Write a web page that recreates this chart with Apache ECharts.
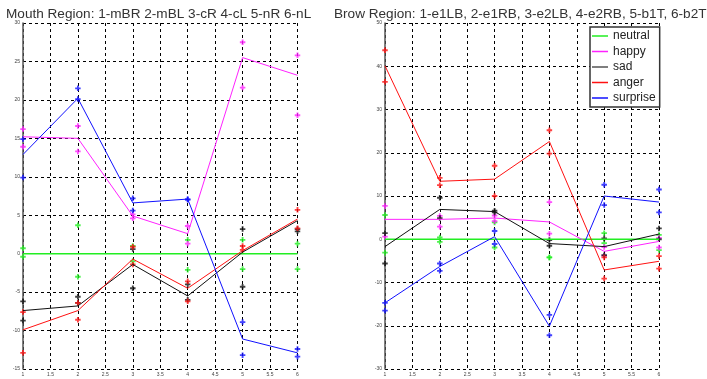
<!DOCTYPE html>
<html><head><meta charset="utf-8">
<script src="https://cdn.jsdelivr.net/npm/echarts@6/dist/echarts.min.js"></script>
<style>html,body{margin:0;padding:0;background:#fff}#c{width:707px;height:379px}</style>
</head><body><div id="c"></div>
<script>
// x positions (feature index)
const xs = [1, 2, 3, 4, 5, 6];
const xTicks = ['1','1.5','2','2.5','3','3.5','4','4.5','5','5.5','6'];
const mouthYTicks = [30,25,20,15,10,5,0,-5,-10,-15];
const browYTicks = [50,40,30,20,10,0,-10,-20,-30];

const emotions = ['neutral','happy','sad','anger','surprise'];
const colors = ['#22ee22','#ff22ff','#111111','#ff1111','#1111ff'];

// Mouth region: mean lines
const mouthNeutral  = [0, 0, 0, 0, 0, 0];
const mouthHappy    = [15.2, 15.0, 4.9, 2.6, 25.5, 23.2];
const mouthSad      = [-7.4, -6.8, -1.4, -5.5, 0.2, 4.3];
const mouthAnger    = [-9.9, -7.4, -0.7, -4.5, 0.4, 4.5];
const mouthSurprise = [12.9, 20.2, 6.6, 7.1, -11.1, -12.9];
// Mouth region: individual samples (two per position)
const mouthNeutralA  = [0.7, 3.7, 1.0, 1.8, 1.8, 1.3];
const mouthNeutralB  = [-0.4, -3.0, -1.0, -2.1, -2.0, -2.0];
const mouthHappyA    = [16.2, 16.6, 5.1, 3.6, 27.5, 25.8];
const mouthHappyB    = [13.9, 13.3, 4.6, 1.3, 21.6, 18.0];
const mouthSadA      = [-6.2, -5.6, 0.6, -4.0, 3.2, 3.2];
const mouthSadB      = [-8.7, -6.4, -4.5, -6.0, -4.3, 2.9];
const mouthAngerA    = [-7.6, -6.4, 0.9, -3.6, 1.0, 5.7];
const mouthAngerB    = [-12.9, -8.6, -1.4, -6.2, 0.5, 3.3];
const mouthSurpriseA = [14.9, 21.5, 7.2, 7.1, -8.9, -12.4];
const mouthSurpriseB = [9.9, 20.1, 5.6, 7.0, -13.2, -13.4];

// Brow region: mean lines
const browNeutral  = [0, 0, 0, 0, 0, 0];
const browHappy    = [4.6, 4.6, 4.9, 4.0, -2.8, -0.5];
const browSad      = [-1.7, 6.9, 6.4, -1.0, -1.7, 1.2];
const browAnger    = [40.1, 13.4, 13.9, 22.6, -7.1, -5.1];
const browSurprise = [-14.7, -6.3, 0.6, -20.1, 10.0, 8.6];
// Brow region: individual samples
const browNeutralA  = [5.6, 0.4, 3.9, -4.2, 1.4, 1.0];
const browNeutralB  = [-3.1, -0.6, -1.9, -4.2, -0.9, -2.5];
const browHappyA    = [7.7, 5.4, 5.5, 8.6, -1.8, 0.3];
const browHappyB    = [0.6, 2.9, 4.2, 1.3, -3.8, -1.9];
const browSadA      = [1.4, 9.6, 6.6, -0.2, 0.2, 2.5];
const browSadB      = [-5.6, 4.9, 6.2, -1.5, -3.7, 0.0];
const browAngerA    = [43.7, 14.2, 17.0, 25.2, -4.2, -3.9];
const browAngerB    = [36.4, 12.5, 10.0, 19.8, -9.1, -6.8];
const browSurpriseA = [-14.7, -5.6, 1.9, -17.5, 12.6, 11.5];
const browSurpriseB = [-16.5, -7.3, -1.1, -22.2, 7.9, 6.2];

const mouthLines = [mouthNeutral, mouthHappy, mouthSad, mouthAnger, mouthSurprise];
const mouthSamples = [[mouthNeutralA, mouthNeutralB],[mouthHappyA, mouthHappyB],[mouthSadA, mouthSadB],[mouthAngerA, mouthAngerB],[mouthSurpriseA, mouthSurpriseB]];
const browLines = [browNeutral, browHappy, browSad, browAnger, browSurprise];
const browSamples = [[browNeutralA, browNeutralB],[browHappyA, browHappyB],[browSadA, browSadB],[browAngerA, browAngerB],[browSurpriseA, browSurpriseB]];

const plus = 'path://M-1,-3 L1,-3 L1,-1 L3,-1 L3,1 L1,1 L1,3 L-1,3 L-1,1 L-3,1 L-3,-1 L-1,-1 Z';
const font = 'Liberation Sans, Arial, sans-serif';

function axisX(idx) {
  return {
    type: 'value', gridIndex: idx, min: 1, max: 6, interval: 0.5,
    axisLine: { show: true, lineStyle: { color: '#555', width: 1.2 } },
    axisTick: { show: false },
    axisLabel: { fontSize: 5, color: '#444', margin: 3, fontFamily: font },
    splitLine: { show: true, lineStyle: { color: '#000', type: [3, 3], width: 1 } }
  };
}
function axisY(idx, min, max, interval) {
  return {
    type: 'value', gridIndex: idx, min: min, max: max, interval: interval,
    axisLine: { show: true, lineStyle: { color: '#555', width: 1.5 } },
    axisTick: { show: false },
    axisLabel: { fontSize: 5, color: '#444', margin: 3, fontFamily: font },
    splitLine: { show: true, lineStyle: { color: '#000', type: [3, 3], width: 1 } }
  };
}

const series = [];
function addPanel(idx, lines, samples) {
  emotions.forEach((name, i) => {
    const pts = [];
    samples[i].forEach(arr => arr.forEach((v, k) => pts.push([xs[k], v])));
    series.push({
      name: name + '_samples', type: 'scatter', xAxisIndex: idx, yAxisIndex: idx,
      data: pts, symbol: plus, symbolSize: 5.5, itemStyle: { color: colors[i] },
      silent: true, z: 3
    });
  });
  emotions.forEach((name, i) => {
    series.push({
      name: name, type: 'line', xAxisIndex: idx, yAxisIndex: idx,
      data: lines[i].map((v, k) => [xs[k], v]), showSymbol: false, symbol: 'none',
      lineStyle: { color: colors[i], width: i === 0 ? 1.5 : 1 },
      itemStyle: { color: colors[i] }, z: 4, animation: false
    });
  });
}
addPanel(0, mouthLines, mouthSamples);
addPanel(1, browLines, browSamples);

const option = {
  animation: false,
  backgroundColor: '#fff',
  title: [
    { text: 'Mouth Region: 1-mBR 2-mBL 3-cR 4-cL 5-nR 6-nL', left: 6, top: 7, padding: 0,
      textStyle: { fontSize: 13.6, fontWeight: 'normal', color: '#333', fontFamily: font } },
    { text: 'Brow Region: 1-e1LB, 2-e1RB, 3-e2LB, 4-e2RB, 5-b1T, 6-b2T', left: 334, top: 7, padding: 0,
      textStyle: { fontSize: 13.6, fontWeight: 'normal', color: '#333', fontFamily: font } }
  ],
  legend: {
    orient: 'vertical', left: 590, top: 27, width: 68,
    data: emotions.map((n, i) => ({ name: n, icon: 'rect', itemStyle: { color: i === 2 ? '#555' : colors[i] } })),
    itemWidth: 16, itemHeight: 1.5, itemGap: 1.5,
    padding: [2, 4, 2, 2],
    backgroundColor: '#fff', borderColor: '#333', borderWidth: 1.5, borderRadius: 0,
    textStyle: { fontSize: 12, color: '#222', fontFamily: font, lineHeight: 14 },
    selectedMode: false
  },
  grid: [
    { left: 23, top: 23, width: 274.5, height: 346, containLabel: false },
    { left: 385, top: 23, width: 274, height: 346, containLabel: false }
  ],
  xAxis: [axisX(0), axisX(1)],
  yAxis: [axisY(0, -15, 30, 5), axisY(1, -30, 50, 10)],
  series: series
};
echarts.init(document.getElementById('c')).setOption(option);
</script></body></html>
